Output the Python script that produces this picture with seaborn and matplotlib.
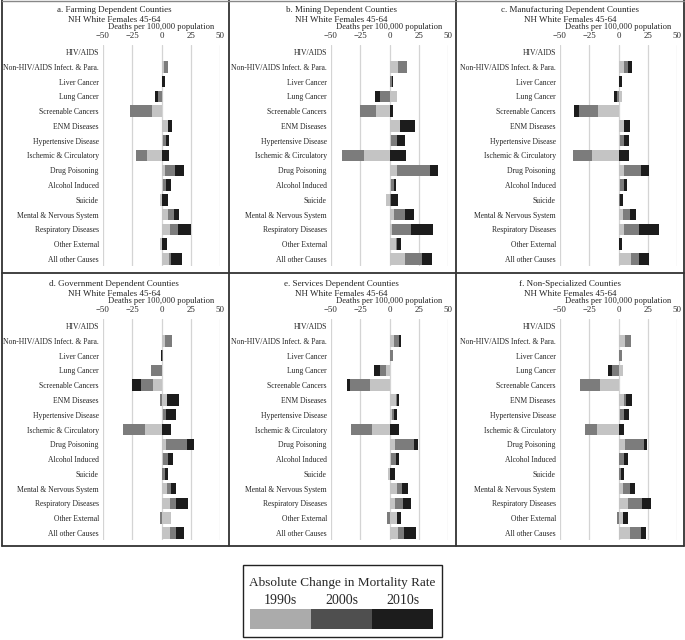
import numpy as np
import matplotlib
matplotlib.use('Agg')
import matplotlib.pyplot as plt
from matplotlib.patches import Rectangle
from matplotlib.lines import Line2D
import seaborn as sns

# Causes of death (rows, top to bottom)
causes = ['HIV/AIDS', 'Non-HIV/AIDS Infect. & Para.', 'Liver Cancer', 'Lung Cancer',
          'Screenable Cancers', 'ENM Diseases', 'Hypertensive Disease',
          'Ischemic & Circulatory', 'Drug Poisoning', 'Alcohol Induced', 'Suicide',
          'Mental & Nervous System', 'Respiratory Diseases', 'Other External',
          'All other Causes']
decades = ['1990s', '2000s', '2010s']

# change in deaths per 100,000
farming_1990s = [0.3, 2.5, 0.3, 1.7, -8, 5.2, 1, -12.4, 3.2, 1, -1, 5.2, 7.2, -1, 6]
farming_2000s = [0, 2.8, 0.3, -3, -19, 0.5, 2.5, -9.8, 8.3, 2.7, 0.5, 5.7, 6.9, 0.8, 2.3]
farming_2010s = [0, 0, 2, -2.3, 0, 3.7, 3.2, 6.6, 7.5, 4.3, 5, 3.7, 11.5, 3.5, 9.5]

mining_1990s = [0.3, 7.2, 0.5, 6.6, -11.5, 8.6, 1.4, -21.5, 6.6, 1.2, -2.6, 3.7, 2.3, 5.2, 13.2]
mining_2000s = [0, 7.5, 2, -7.8, -13.5, 0.5, 5.2, -19, 28, 2.6, 1, 9.5, 15.8, 1.4, 14.4]
mining_2010s = [0, 0, 0.3, -4.3, 3.4, 12.4, 6.3, 14.4, 7.2, 2, 6, 7.8, 18.7, 3.4, 8.9]

manuf_1990s = [0, 5.1, 0.3, 2.8, -17.7, 4.3, 1.4, -22.6, 4.3, 0.9, 0.5, 4, 4.6, 0.3, 10.9]
manuf_2000s = [0, 3.4, 0.3, -1.5, -15.7, 0.5, 2.9, -16, 15, 3.4, 0.5, 5.7, 12.6, 0.3, 6.3]
manuf_2010s = [0, 2.8, 2.3, -2, -4.3, 5, 5.1, 9.4, 6.6, 2.9, 3, 4.9, 17.7, 2.5, 8.9]

gov_1990s = [0, 3.2, 0.5, 0, -7.2, 4.6, 1.7, -13.8, 4, 1.2, 0.5, 4.9, 6.9, 8, 6.9]
gov_2000s = [0, 5.7, 1, -8.6, -10.6, -1.5, 2.3, -18.7, 17.8, 4.3, 2.5, 3.4, 5.2, -1, 5.2]
gov_2010s = [0, 0.5, -0.5, -0.5, -7.5, 10.3, 8, 8, 6, 4.6, 2.5, 4.3, 10.3, 0, 7.2]

serv_1990s = [0.3, 3.7, 0.3, -3.2, -16.4, 5.7, 2.3, -14.9, 4.3, 0.9, -1.5, 6, 4.9, 6.6, 7.5]
serv_2000s = [0, 4.3, 2.3, -5.2, -17.2, 0.6, 1.2, -17.8, 16.7, 4.3, 0.5, 4.6, 6.6, -2, 4.9]
serv_2010s = [0, 1.7, 0, -4.9, -2.9, 2, 2.6, 8.3, 3.2, 2.6, 4.3, 5.5, 6.9, 3.2, 10]

nonspec_1990s = [0.3, 5.5, 0.3, 3.7, -15.8, 4.9, 1.7, -18.7, 5.5, 0.5, 0.5, 4, 7.8, 4, 10]
nonspec_2000s = [0, 4.9, 2.3, -5.7, -17.5, 1.7, 2.6, -10.3, 16, 4.3, 2, 5.5, 12, -1.4, 8.9]
nonspec_2010s = [0, 0, 0, -3.2, 0, 5.2, 4.6, 4.9, 3.2, 3.7, 2.3, 4.6, 7.8, 4, 4.9]

panel_titles = ['a. Farming Dependent Counties', 'b. Mining Dependent Counties',
                'c. Manufacturing Dependent Counties', 'd. Government Dependent Counties',
                'e. Services Dependent Counties', 'f. Non-Specialized Counties']
subtitle = 'NH White Females 45-64'
xticks = [-50, -25, 0, 25, 50]

panels = [
    (farming_1990s, farming_2000s, farming_2010s),
    (mining_1990s, mining_2000s, mining_2010s),
    (manuf_1990s, manuf_2000s, manuf_2010s),
    (gov_1990s, gov_2000s, gov_2010s),
    (serv_1990s, serv_2000s, serv_2010s),
    (nonspec_1990s, nonspec_2000s, nonspec_2010s),
]

bar_colors = ['#c4c4c4', '#7c7c7c', '#1c1c1c']
legend_colors = ['#ababab', '#4f4f4f', '#1c1c1c']

sns.set_style('white')
plt.rcParams['font.family'] = ['Liberation Serif', 'DejaVu Serif']

W, H = 685, 640
fig = plt.figure(figsize=(W / 100, H / 100), dpi=100)


def fx(x):
    return x / W


def fy(y):
    return 1 - y / H


def draw_panel(ax, vals):
    arr = np.array(vals, dtype=float)
    pos = np.cumsum(np.clip(arr, 0, None), axis=0)
    neg = np.cumsum(np.clip(arr, None, 0), axis=0)
    # later decades first, earlier decades painted over them
    for k in [2, 1, 0]:
        for side in (pos, neg):
            sns.barplot(x=side[k], y=causes, orient='h', color=bar_colors[k],
                        width=0.78, linewidth=0, saturation=1, errorbar=None, ax=ax)
    ax.set_xlim(-50, 50)
    ax.set_xticks(xticks)
    ax.xaxis.tick_top()
    ax.tick_params(axis='x', length=0, pad=3, labelsize=6.3)
    ax.tick_params(axis='y', length=0, pad=3, labelsize=5.5)
    ax.set_ylabel('')
    ax.set_xlabel('Deaths per 100,000 population', fontsize=6.1, labelpad=2.5)
    ax.xaxis.set_label_position('top')
    ax.grid(axis='x', color='#d4d4d4', lw=0.9)
    ax.grid(axis='y', visible=False)
    ax.set_axisbelow(True)
    for s in ax.spines.values():
        s.set_visible(False)


col_left = [103, 331, 560]
col_center = [114, 341, 570]
row_top = [44.6, 318.6]
row_title = [10, 284]
ax_w, ax_h = 117, 221.8

for i, vals in enumerate(panels):
    r, c = divmod(i, 3)
    ax = fig.add_axes([fx(col_left[c]), fy(row_top[r] + ax_h), ax_w / W, ax_h / H])
    draw_panel(ax, vals)
    fig.text(fx(col_center[c]), fy(row_title[r]), panel_titles[i], ha='center', va='center', fontsize=6.5)
    fig.text(fx(col_center[c]), fy(row_title[r] + 9.5), subtitle, ha='center', va='center', fontsize=6.5)

# panel frames
frame = '#333333'
for x in [1.5, 228.5, 455.5, 684]:
    fig.add_artist(Line2D([fx(x), fx(x)], [fy(0), fy(546)], color=frame, lw=1.3))
for y in [273, 546]:
    fig.add_artist(Line2D([fx(1.5), fx(684)], [fy(y), fy(y)], color=frame, lw=1.3))
fig.add_artist(Line2D([fx(1.5), fx(684)], [fy(0.5), fy(0.5)], color='#888888', lw=1))

# legend box
fig.add_artist(Rectangle((fx(243), fy(637)), 199 / W, 72 / H, transform=fig.transFigure,
                         facecolor='white', edgecolor='#222222', lw=1))
fig.text(fx(342.5), fy(583), 'Absolute Change in Mortality Rate', ha='center', va='center', fontsize=9.5)
leg_x = [250, 311, 372]
for k, d in enumerate(decades):
    fig.text(fx(leg_x[k] + 30.5), fy(601), d, ha='center', va='center', fontsize=10)
    fig.add_artist(Rectangle((fx(leg_x[k]), fy(629)), 61 / W, 20 / H, transform=fig.transFigure,
                             facecolor=legend_colors[k], edgecolor='none'))

fig.savefig('out.png', dpi=100)
